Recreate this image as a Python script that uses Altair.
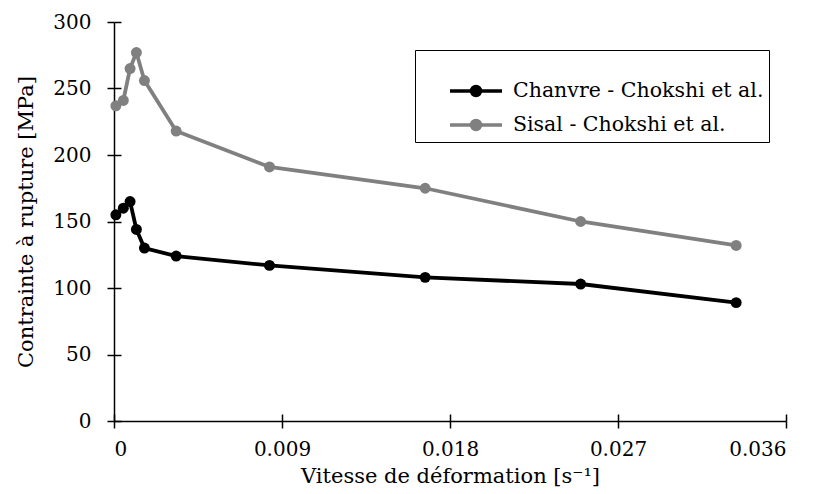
import altair as alt
import pandas as pd

# ---- data ----
rate = [0.0001, 0.0005, 0.00086, 0.0012, 0.00163, 0.00333, 0.00833, 0.01667, 0.025, 0.03333]
chanvre = [155, 160, 165, 144, 130, 124, 117, 108, 103, 89]
sisal = [237, 241, 265, 277, 256, 218, 191, 175, 150, 132]
series = ["Chanvre - Chokshi et al.", "Sisal - Chokshi et al."]
colors = ["#000000", "#808080"]
x_ticks = [0, 0.009, 0.018, 0.027, 0.036]
y_ticks = [0, 50, 100, 150, 200, 250, 300]

rows = []
for name, vals in zip(series, [chanvre, sisal]):
    for r, v in zip(rate, vals):
        rows.append({"rate": r, "stress": v, "serie": name})
df = pd.DataFrame(rows)

FONT = "DejaVu Serif"

# legend symbol: horizontal line with a dot in the middle (shifted right)
symbol_path = (
    "M1.8,0L7.0,0 "
    "M3.95,0a0.45,0.45 0 1,0 0.9,0a0.45,0.45 0 1,0 -0.9,0 "
    "M4.15,0a0.25,0.25 0 1,0 0.5,0a0.25,0.25 0 1,0 -0.5,0 "
    "M4.32,0a0.08,0.08 0 1,0 0.16,0a0.08,0.08 0 1,0 -0.16,0"
)

legend = alt.Legend(
    title=" ", titleFontSize=14, titlePadding=10,
    orient="none", legendX=301, legendY=28, direction="vertical",
    padding=5, strokeColor="black", fillColor="white",
    symbolType=symbol_path, symbolSize=400, symbolStrokeWidth=3.5,
    labelFont=FONT, labelFontSize=20.5, labelColor="black", labelOffset=69,
    labelLimit=500, rowPadding=10,
)
color = alt.Color("serie:N", scale=alt.Scale(domain=series, range=colors), legend=legend)

xscale = alt.Scale(domain=[0, 0.036], nice=False, zero=False)
yscale = alt.Scale(domain=[0, 300], nice=False)

x_label_expr = "datum.value == 0 ? '0' : format(datum.value, '.3f')"

x_main = alt.X("rate:Q", scale=xscale, axis=alt.Axis(
    values=x_ticks, labelExpr=x_label_expr, title="Vitesse de déformation [s⁻¹]",
    tickSize=7, labelPadding=11, titlePadding=6, grid=False))
y_main = alt.Y("stress:Q", scale=yscale, axis=alt.Axis(
    values=y_ticks, title="Contrainte à rupture [MPa]",
    tickSize=7, labelPadding=16, titlePadding=16, grid=False))

x_inner = alt.X("rate:Q", scale=xscale, axis=alt.Axis(
    values=x_ticks, orient="bottom", offset=-7, domain=False, labels=False,
    title=None, tickSize=7, grid=False))
y_inner = alt.Y("stress:Q", scale=yscale, axis=alt.Axis(
    values=y_ticks, orient="left", offset=-7, domain=False, labels=False,
    title=None, tickSize=7, grid=False))

base = alt.Chart(df)
lines = base.mark_line(strokeWidth=3.8).encode(x=x_main, y=y_main, color=color)
points = base.mark_circle(size=120, opacity=1).encode(x=x_inner, y=y_inner, color=color)

chart = alt.layer(lines, points).resolve_scale(x="independent", y="independent").properties(
    width=672, height=399,
    autosize=alt.AutoSizeParams(type="none"),
    padding={"left": 106, "top": 14, "right": 20, "bottom": 70},
).configure_view(stroke=None).configure_axis(
    domainColor="black", domainWidth=1.5, tickColor="black", tickWidth=1.5,
    labelColor="black", titleColor="black", labelFont=FONT, titleFont=FONT,
    labelFontSize=20, titleFontSize=21, titleFontWeight="normal",
)

chart.save("out.html", embed_options={"renderer": "svg", "actions": False})
